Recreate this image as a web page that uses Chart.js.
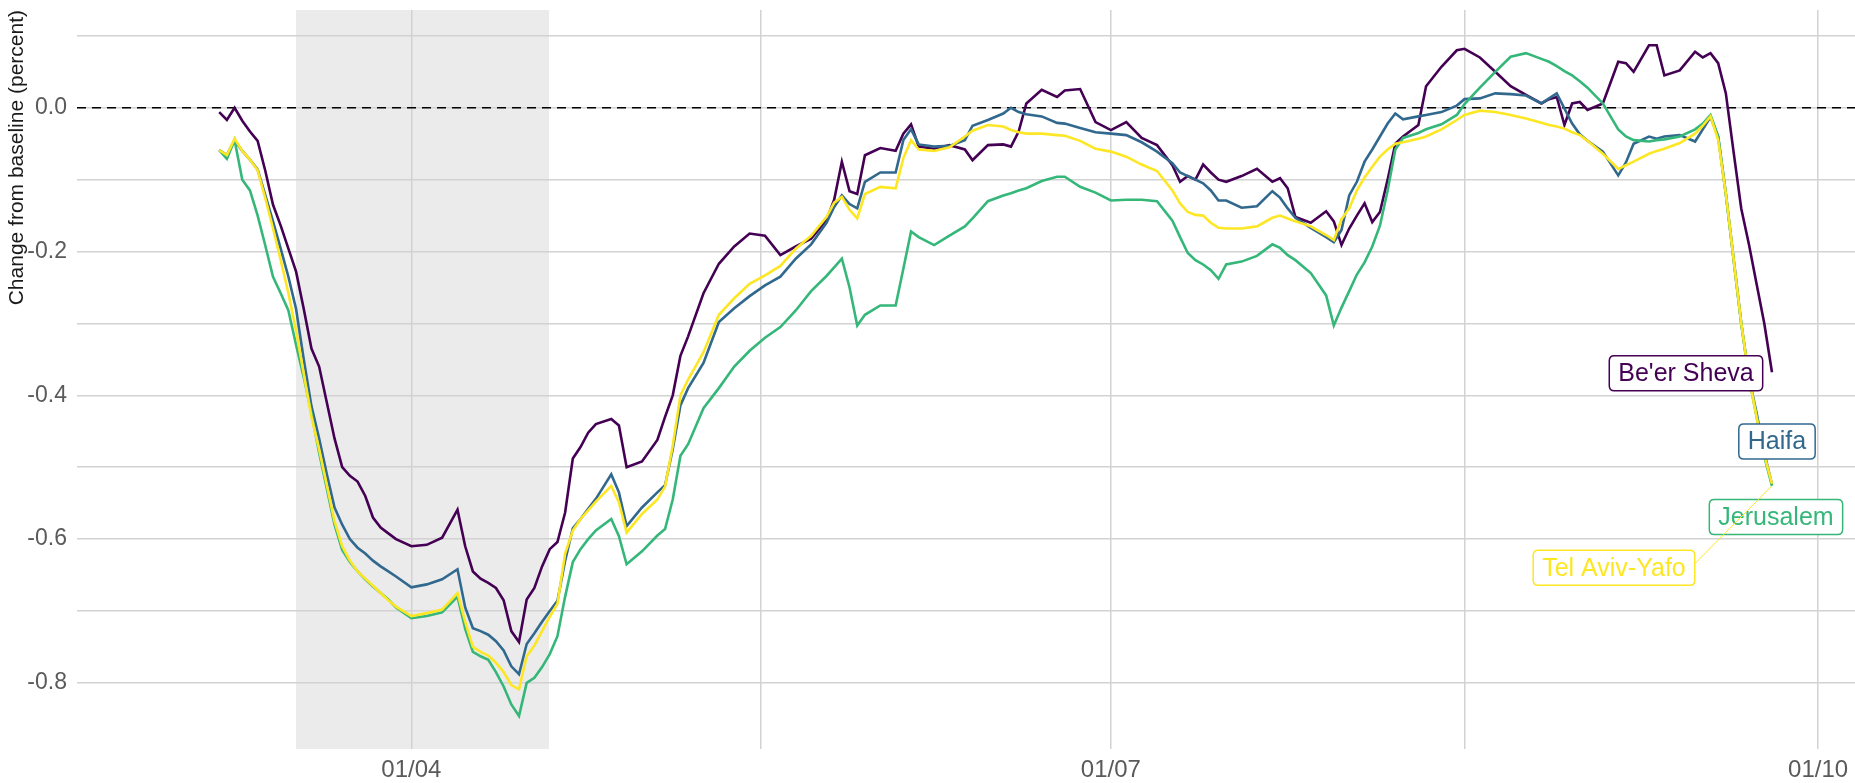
<!DOCTYPE html>
<html lang="en">
<head>
    <meta charset="UTF-8">
    <title>Change from baseline by city</title>
    <script src="https://cdn.jsdelivr.net/npm/chart.js"></script>
    <style>
        body {
            margin: 0;
            background-color: #ffffff;
        }
        #wrap {
            width: 1855px;
            height: 783px;
        }
    </style>
</head>
<body>
    <div id="wrap">
        <canvas id="cityChart" width="1855" height="783"></canvas>
    </div>

<script>
// day of year (2020, 1 Jan = 0)
const days = [
    66, 67, 68, 69, 70, 71, 72, 73, 74, 75,
    76, 77, 78, 79, 80, 81, 82, 83, 84, 85,
    86, 87, 88, 89, 91, 93, 95, 97, 98, 99,
    100, 101, 102, 103, 104, 105, 106, 107, 108, 109,
    110, 111, 112, 113, 114, 115, 117, 118, 119, 121,
    123, 124, 125, 126, 127, 129, 131, 133, 135, 137,
    139, 141, 143, 145, 146, 147, 148, 149, 150, 152,
    154, 155, 156, 157, 159, 161, 163, 164, 166, 168,
    169, 170, 171, 173, 175, 176, 178, 180, 182, 184,
    186, 188, 190, 191, 192, 193, 194, 195, 196, 197,
    199, 201, 203, 204, 205, 206, 208, 210, 211, 212,
    213, 214, 215, 216, 217, 218, 219, 220, 222, 223,
    225, 227, 228, 230, 232, 234, 236, 238, 239, 240,
    241, 242, 243, 244, 246, 248, 249, 250, 252, 253,
    254, 256, 258, 259, 260, 261, 262, 263, 264, 265,
    266, 267, 268
];

const beerSheva = [
    -0.006, -0.017, 0.000, -0.018, -0.033, -0.046, -0.088, -0.135, -0.164, -0.196,
    -0.228, -0.280, -0.335, -0.360, -0.410, -0.460, -0.500, -0.512, -0.520, -0.540,
    -0.570, -0.584, -0.592, -0.600, -0.610, -0.608, -0.598, -0.559, -0.610, -0.645,
    -0.655, -0.661, -0.668, -0.685, -0.728, -0.743, -0.684, -0.668, -0.638, -0.614,
    -0.604, -0.563, -0.488, -0.472, -0.452, -0.440, -0.433, -0.442, -0.500, -0.492,
    -0.462, -0.430, -0.400, -0.345, -0.318, -0.258, -0.217, -0.193, -0.175, -0.178,
    -0.205, -0.193, -0.182, -0.156, -0.128, -0.075, -0.116, -0.120, -0.066, -0.056,
    -0.060, -0.036, -0.023, -0.054, -0.057, -0.052, -0.058, -0.073, -0.052, -0.051,
    -0.054, -0.033, 0.006, 0.025, 0.015, 0.024, 0.026, -0.020, -0.031, -0.020,
    -0.042, -0.052, -0.080, -0.103, -0.095, -0.100, -0.079, -0.090, -0.100, -0.103,
    -0.095, -0.085, -0.103, -0.098, -0.112, -0.152, -0.160, -0.144, -0.158, -0.191,
    -0.168, -0.150, -0.133, -0.159, -0.145, -0.100, -0.050, -0.040, -0.024, 0.030,
    0.057, 0.080, 0.082, 0.070, 0.050, 0.030, 0.018, 0.006, 0.012, 0.015,
    -0.024, 0.006, 0.008, -0.003, 0.006, 0.064, 0.062, 0.050, 0.087, 0.087,
    0.045, 0.052, 0.078, 0.070, 0.076, 0.062, 0.020, -0.061, -0.140, -0.190,
    -0.245, -0.300, -0.368
];

const haifa = [
    -0.059, -0.066, -0.045, -0.060, -0.072, -0.086, -0.122, -0.158, -0.196, -0.235,
    -0.280, -0.350, -0.415, -0.460, -0.510, -0.556, -0.580, -0.600, -0.612, -0.620,
    -0.630, -0.638, -0.645, -0.652, -0.667, -0.663, -0.656, -0.642, -0.695, -0.724,
    -0.728, -0.733, -0.742, -0.755, -0.777, -0.788, -0.746, -0.731, -0.715, -0.700,
    -0.686, -0.630, -0.585, -0.572, -0.558, -0.544, -0.510, -0.535, -0.582, -0.556,
    -0.535, -0.525, -0.475, -0.414, -0.390, -0.355, -0.298, -0.279, -0.262, -0.247,
    -0.235, -0.210, -0.190, -0.160, -0.138, -0.122, -0.134, -0.140, -0.103, -0.090,
    -0.090, -0.045, -0.030, -0.051, -0.054, -0.053, -0.045, -0.025, -0.017, -0.008,
    0.000, -0.006, -0.009, -0.012, -0.021, -0.022, -0.028, -0.034, -0.036, -0.038,
    -0.048, -0.061, -0.077, -0.090, -0.095, -0.100, -0.105, -0.115, -0.129, -0.129,
    -0.139, -0.137, -0.116, -0.125, -0.140, -0.153, -0.167, -0.180, -0.187, -0.170,
    -0.122, -0.103, -0.075, -0.058, -0.040, -0.022, -0.008, -0.016, -0.012, -0.010,
    -0.006, 0.003, 0.012, 0.013, 0.020, 0.019, 0.017, 0.006, 0.013, 0.020,
    -0.001, -0.022, -0.037, -0.046, -0.061, -0.094, -0.076, -0.050, -0.040, -0.043,
    -0.040, -0.038, -0.047, -0.030, -0.013, -0.040, -0.120, -0.210, -0.300, -0.375,
    -0.425, -0.480, -0.524
];

const jerusalem = [
    -0.059, -0.071, -0.045, -0.100, -0.115, -0.150, -0.192, -0.235, -0.258, -0.282,
    -0.330, -0.375, -0.425, -0.480, -0.530, -0.580, -0.615, -0.632, -0.645, -0.656,
    -0.666, -0.675, -0.684, -0.695, -0.710, -0.707, -0.702, -0.680, -0.725, -0.757,
    -0.763, -0.768, -0.785, -0.805, -0.830, -0.846, -0.800, -0.793, -0.778, -0.760,
    -0.735, -0.680, -0.632, -0.614, -0.600, -0.588, -0.572, -0.596, -0.635, -0.617,
    -0.595, -0.586, -0.545, -0.484, -0.468, -0.418, -0.390, -0.360, -0.338, -0.320,
    -0.305, -0.282, -0.255, -0.234, -0.222, -0.210, -0.250, -0.303, -0.288, -0.275,
    -0.275, -0.224, -0.172, -0.180, -0.191, -0.178, -0.165, -0.154, -0.130, -0.122,
    -0.119, -0.115, -0.112, -0.102, -0.096, -0.096, -0.110, -0.118, -0.129, -0.128,
    -0.128, -0.130, -0.157, -0.180, -0.202, -0.212, -0.218, -0.226, -0.238, -0.218,
    -0.214, -0.206, -0.190, -0.195, -0.205, -0.212, -0.230, -0.261, -0.303, -0.278,
    -0.255, -0.232, -0.215, -0.193, -0.164, -0.115, -0.058, -0.042, -0.035, -0.030,
    -0.023, -0.010, 0.005, 0.028, 0.050, 0.071, 0.076, 0.068, 0.064, 0.058,
    0.051, 0.045, 0.037, 0.028, 0.006, -0.030, -0.040, -0.045, -0.047, -0.045,
    -0.044, -0.040, -0.030, -0.022, -0.010, -0.040, -0.120, -0.210, -0.300, -0.375,
    -0.430, -0.485, -0.526
];

const telAviv = [
    -0.059, -0.066, -0.043, -0.060, -0.072, -0.087, -0.126, -0.168, -0.212, -0.258,
    -0.310, -0.370, -0.430, -0.475, -0.525, -0.575, -0.610, -0.630, -0.645, -0.655,
    -0.665, -0.675, -0.685, -0.694, -0.707, -0.703, -0.698, -0.675, -0.715, -0.750,
    -0.757, -0.762, -0.772, -0.785, -0.803, -0.809, -0.763, -0.748, -0.728, -0.708,
    -0.690, -0.620, -0.588, -0.572, -0.560, -0.548, -0.526, -0.549, -0.591, -0.565,
    -0.545, -0.527, -0.470, -0.400, -0.378, -0.340, -0.288, -0.265, -0.245, -0.233,
    -0.220, -0.196, -0.178, -0.152, -0.132, -0.124, -0.142, -0.154, -0.120, -0.110,
    -0.112, -0.070, -0.045, -0.058, -0.060, -0.055, -0.040, -0.032, -0.024, -0.026,
    -0.031, -0.034, -0.036, -0.036, -0.038, -0.039, -0.046, -0.057, -0.061, -0.068,
    -0.079, -0.088, -0.115, -0.133, -0.145, -0.149, -0.150, -0.160, -0.167, -0.168,
    -0.168, -0.165, -0.153, -0.150, -0.154, -0.158, -0.165, -0.177, -0.184, -0.155,
    -0.140, -0.115, -0.097, -0.082, -0.068, -0.058, -0.050, -0.048, -0.043, -0.040,
    -0.030, -0.017, -0.010, -0.004, -0.006, -0.010, -0.015, -0.021, -0.024, -0.026,
    -0.029, -0.034, -0.038, -0.046, -0.064, -0.085, -0.080, -0.075, -0.064, -0.060,
    -0.057, -0.049, -0.036, -0.025, -0.012, -0.045, -0.120, -0.210, -0.300, -0.375,
    -0.430, -0.483, -0.523
];

const cityNames = ["Be'er Sheva", 'Haifa', 'Jerusalem', 'Tel Aviv-Yafo'];

// x axis: 01/04, 01/07, 01/10 and the minor breaks between them
const xTickDays = [91, 182, 274];
const xTickLabels = ['01/04', '01/07', '01/10'];
const xMinorDays = [136.5, 228];

// y axis
const yTickValues = [-0.8, -0.6, -0.4, -0.2, 0.0];
const yTickLabels = ['-0.8', '-0.6', '-0.4', '-0.2', '0.0'];
const yMinorValues = [-0.7, -0.5, -0.3, -0.1, 0.1];

// shaded period (first closure)
const closureStart = 76;
const closureEnd = 108.9;

const colors = ['#440154', '#31688E', '#35B779', '#FDE725'];
const seriesValues = [beerSheva, haifa, jerusalem, telAviv];

// where the end labels sit relative to the last point (px)
const labelOffsets = [
    { dx: -86, dy: 1, segment: false },
    { dx: 5, dy: -43, segment: false },
    { dx: 4, dy: 31, segment: false },
    { dx: -158, dy: 84, segment: true }
];

const FONT = '"Liberation Sans", Arial, sans-serif';

function toPoints(vals) {
    return vals.map((v, i) => ({ x: days[i], y: v }));
}

const shadePlugin = {
    id: 'shade',
    beforeDraw(chart) {
        const { ctx, chartArea, scales } = chart;
        const x0 = scales.x.getPixelForValue(closureStart);
        const x1 = scales.x.getPixelForValue(closureEnd);
        ctx.save();
        ctx.fillStyle = '#ebebeb';
        ctx.fillRect(x0, chartArea.top, x1 - x0, chartArea.bottom - chartArea.top);
        ctx.restore();
    }
};

const zeroLinePlugin = {
    id: 'zeroLine',
    beforeDatasetsDraw(chart) {
        const { ctx, chartArea, scales } = chart;
        const y = scales.y.getPixelForValue(0);
        ctx.save();
        ctx.strokeStyle = '#000000';
        ctx.lineWidth = 1.4;
        ctx.setLineDash([9, 6]);
        ctx.beginPath();
        ctx.moveTo(chartArea.left, y);
        ctx.lineTo(chartArea.right, y);
        ctx.stroke();
        ctx.restore();
    }
};

function roundRect(ctx, x, y, w, h, r) {
    ctx.beginPath();
    ctx.moveTo(x + r, y);
    ctx.lineTo(x + w - r, y);
    ctx.quadraticCurveTo(x + w, y, x + w, y + r);
    ctx.lineTo(x + w, y + h - r);
    ctx.quadraticCurveTo(x + w, y + h, x + w - r, y + h);
    ctx.lineTo(x + r, y + h);
    ctx.quadraticCurveTo(x, y + h, x, y + h - r);
    ctx.lineTo(x, y + r);
    ctx.quadraticCurveTo(x, y, x + r, y);
    ctx.closePath();
}

const endLabelPlugin = {
    id: 'endLabels',
    afterDatasetsDraw(chart) {
        const { ctx, scales } = chart;
        const last = days.length - 1;
        ctx.save();
        ctx.font = '25px ' + FONT;
        ctx.textAlign = 'center';
        ctx.textBaseline = 'middle';
        seriesValues.forEach((vals, i) => {
            const px = scales.x.getPixelForValue(days[last]);
            const py = scales.y.getPixelForValue(vals[last]);
            const off = labelOffsets[i];
            const cx = px + off.dx;
            const cy = py + off.dy;
            const w = ctx.measureText(cityNames[i]).width + 18;
            const h = 35;
            if (off.segment) {
                ctx.strokeStyle = colors[i];
                ctx.lineWidth = 1;
                ctx.beginPath();
                ctx.moveTo(cx + w / 2, cy - 4);
                ctx.lineTo(px, py + 2);
                ctx.stroke();
            }
            roundRect(ctx, cx - w / 2, cy - h / 2, w, h, 5);
            ctx.fillStyle = '#ffffff';
            ctx.fill();
            ctx.strokeStyle = colors[i];
            ctx.lineWidth = 1.5;
            ctx.stroke();
            ctx.fillStyle = colors[i];
            ctx.fillText(cityNames[i], cx, cy + 1);
        });
        ctx.restore();
    }
};

new Chart(document.getElementById('cityChart'), {
    type: 'line',
    data: {
        datasets: seriesValues.map((vals, i) => ({
            label: cityNames[i],
            data: toPoints(vals),
            borderColor: colors[i],
            backgroundColor: colors[i],
            borderWidth: 2.6,
            pointRadius: 0,
            tension: 0,
            fill: false,
            order: 3 - i
        }))
    },
    options: {
        responsive: false,
        animation: false,
        devicePixelRatio: 1,
        layout: { padding: { top: 10, left: 0, right: 0, bottom: 0 } },
        plugins: {
            legend: { display: false },
            tooltip: { enabled: false }
        },
        scales: {
            x: {
                type: 'linear',
                min: 47.5,
                max: 278.8,
                afterBuildTicks(scale) {
                    scale.ticks = xTickDays.concat(xMinorDays)
                        .sort((a, b) => a - b)
                        .map(v => ({ value: v }));
                },
                afterFit(scale) {
                    scale.height = 34;
                    scale.paddingLeft = 0;
                    scale.paddingRight = 0;
                },
                grid: { color: '#d2d2d2', lineWidth: 1.5, drawTicks: false },
                border: { display: false },
                ticks: {
                    autoSkip: false,
                    maxRotation: 0,
                    padding: 7,
                    color: '#5a5a5a',
                    font: { family: FONT, size: 24 },
                    callback(value) {
                        const k = xTickDays.indexOf(value);
                        return k >= 0 ? xTickLabels[k] : '';
                    }
                }
            },
            y: {
                type: 'linear',
                min: -0.892,
                max: 0.136,
                afterBuildTicks(scale) {
                    scale.ticks = yTickValues.concat(yMinorValues)
                        .sort((a, b) => a - b)
                        .map(v => ({ value: v }));
                },
                afterFit(scale) {
                    scale.width = 77;
                    scale.paddingTop = 0;
                    scale.paddingBottom = 0;
                },
                grid: { color: '#d2d2d2', lineWidth: 1.5, drawTicks: false },
                border: { display: false },
                title: {
                    display: true,
                    text: 'Change from baseline (percent)',
                    align: 'end',
                    color: '#1a1a1a',
                    font: { family: FONT, size: 21 },
                    padding: { top: 5, bottom: 0 }
                },
                ticks: {
                    autoSkip: false,
                    padding: 10,
                    color: '#5a5a5a',
                    font: { family: FONT, size: 23 },
                    callback(value) {
                        const k = yTickValues.findIndex(t => Math.abs(t - value) < 1e-6);
                        return k >= 0 ? yTickLabels[k] : '';
                    }
                }
            }
        }
    },
    plugins: [shadePlugin, zeroLinePlugin, endLabelPlugin]
});
</script>

</body>
</html>
